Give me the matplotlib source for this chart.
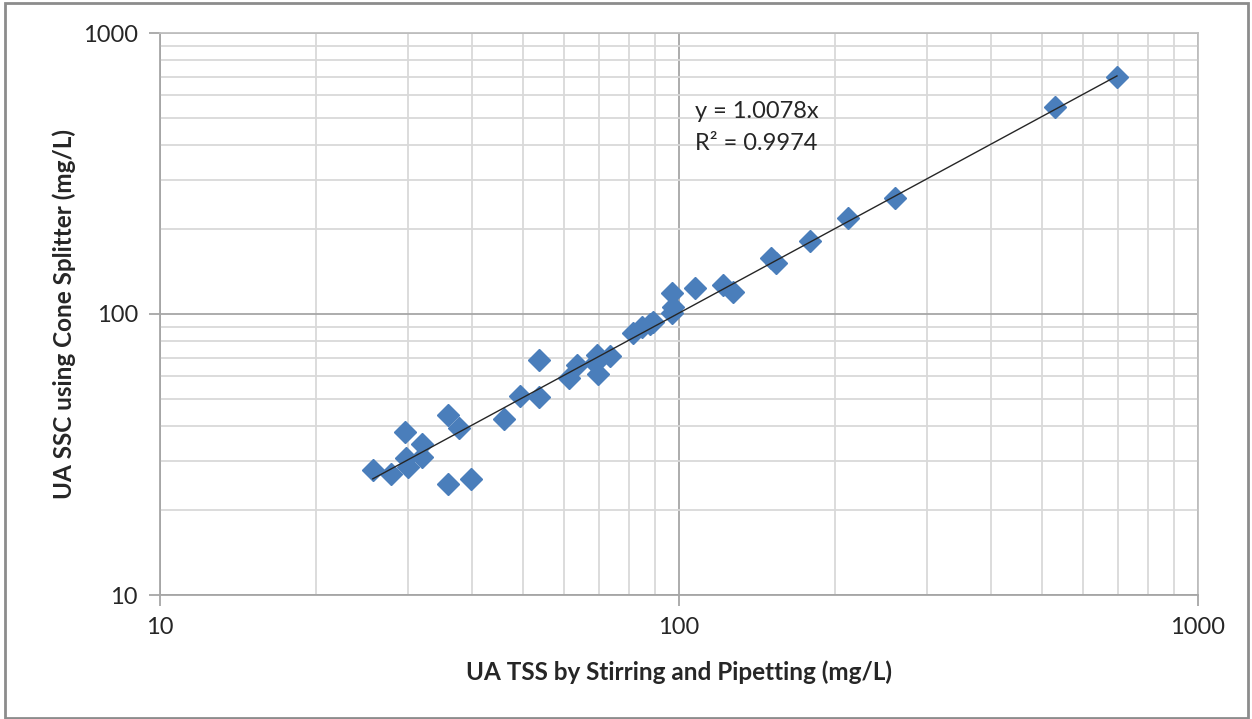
import numpy as np
import matplotlib
matplotlib.use("Agg")
import matplotlib.pyplot as plt
from matplotlib.patches import Rectangle
from matplotlib.ticker import LogLocator, NullFormatter, FixedLocator, FixedFormatter

# UA TSS (stirring/pipetting) vs UA SSC (cone splitter), mg/L
tss = [25.7, 27.9, 29.6, 29.8, 30.0, 32.0, 32.0, 35.9, 37.7, 35.9, 39.7,
       46.0, 49.4, 53.7, 53.7, 61.4, 63.6, 69.5, 69.8, 73.6, 69.0,
       81.5, 84.9, 89.1, 88.0, 96.9, 97.2, 96.9, 107.4, 121.6, 127.0,
       150.4, 153.8, 178.6, 211.8, 260.6, 529.9, 698.0]
ssc = [27.9, 27.0, 38.0, 30.7, 28.5, 34.4, 31.0, 43.8, 39.3, 24.8, 25.9,
       42.3, 51.1, 50.6, 68.5, 59.1, 65.9, 71.4, 61.1, 71.0, 67.0,
       85.5, 90.0, 93.6, 92.0, 118.9, 105.9, 100.8, 123.7, 126.8, 119.7,
       158.0, 151.8, 182.0, 219.8, 258.8, 545.6, 697.0]

slope = 1.0078
r2 = 0.9974

plt.rcParams["font.family"] = ["Lato", "DejaVu Sans"]

W, H = 1252, 719
fig = plt.figure(figsize=(W / 100, H / 100), dpi=100)
ax = fig.add_axes([160 / W, 1 - 595 / H, 1038 / W, 562 / H])

fig.patches.append(Rectangle((5 / W, 1 / H), 1243 / W, 715 / H,
                             transform=fig.transFigure, fill=False,
                             edgecolor="#8c8c8c", linewidth=2))

ax.set_xscale("log")
ax.set_yscale("log")
ax.set_xlim(10, 1000)
ax.set_ylim(10, 1000)

ax.plot(tss, ssc, linestyle="none", marker="D", markersize=11,
        color="#4a7ebb", markeredgecolor="#4a7ebb", zorder=3)

xfit = np.array([min(tss), max(tss)])
ax.plot(xfit, slope * xfit, color="#262626", linewidth=1.0, zorder=4)

fig.text(695 / W, 1 - 112 / H, f"y = {slope}x", fontsize=17, va="center",
         color="#262626")
fig.text(695 / W, 1 - 143 / H, f"R² = {r2}", fontsize=17, va="center",
         color="#262626")

ax.xaxis.set_minor_locator(LogLocator(base=10, subs=np.arange(2, 10), numticks=20))
ax.yaxis.set_minor_locator(LogLocator(base=10, subs=np.arange(2, 10), numticks=20))
ax.xaxis.set_minor_formatter(NullFormatter())
ax.yaxis.set_minor_formatter(NullFormatter())
ax.xaxis.set_major_locator(FixedLocator([10, 100, 1000]))
ax.yaxis.set_major_locator(FixedLocator([10, 100, 1000]))
ax.xaxis.set_major_formatter(FixedFormatter(["10", "100", "1000"]))
ax.yaxis.set_major_formatter(FixedFormatter(["10", "100", "1000"]))

ax.grid(which="major", color="#a6a6a6", linewidth=1.3)
ax.grid(which="minor", color="#d9d9d9", linewidth=1.3)
ax.set_axisbelow(True)

ax.tick_params(which="major", direction="out", length=8, width=1.3,
               color="#a6a6a6", labelsize=17, labelcolor="#262626", pad=8)
ax.tick_params(which="minor", length=0)
for side in ["left", "bottom"]:
    ax.spines[side].set_color("#a6a6a6")
    ax.spines[side].set_linewidth(1.3)
for side in ["top", "right"]:
    ax.spines[side].set_color("#bfbfbf")
    ax.spines[side].set_linewidth(1.3)

ax.set_xlabel("UA TSS by Stirring and Pipetting (mg/L)", fontsize=17.5,
              fontweight="bold", color="#262626", labelpad=16)
ax.set_ylabel("UA SSC using Cone Splitter (mg/L)", fontsize=17.5,
              fontweight="bold", color="#262626", labelpad=5)

fig.savefig("out.png", dpi=100)
